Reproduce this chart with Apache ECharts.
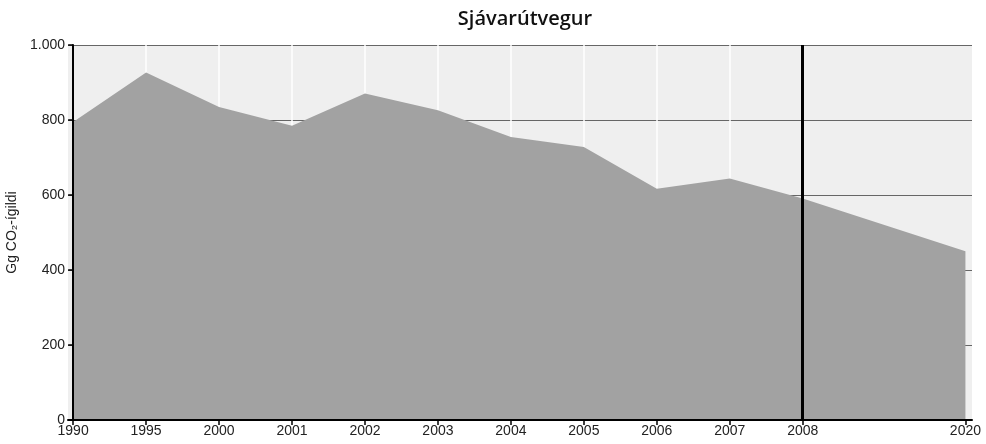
<!DOCTYPE html>
<html>
<head>
<meta charset="utf-8">
<script src="https://cdn.jsdelivr.net/npm/echarts@6/dist/echarts.min.js"></script>
<style>html,body{margin:0;padding:0;background:#fff}#c{width:986px;height:444px}</style>
</head>
<body>
<div id="c"></div>
<script>
// Data
const yearLabels = ['1990','1995','2000','2001','2002','2003','2004','2005','2006','2007','2008','2020'];
const xPos = [0,1,2,3,4,5,6,7,8,9,10,12.23];
const values = [795,927,835,785,871,826,755,728,617,644,591,450];
const gridYears = [1,2,3,4,5,6,7,8,9]; // white vertical grid lines (category positions)
const markYearPos = 10; // 2008 marker

const chart = echarts.init(document.getElementById('c'));
const seriesData = xPos.map((x,i)=>[x, values[i]]);
const font = '"Liberation Sans", Arial, sans-serif';
const X_MIN = -0.07, X_MAX = 12.32;

chart.setOption({
  animation:false,
  title:{text:'Sjávarútvegur', left:520, top:4, textAlign:'center',
    textStyle:{fontFamily:'"Open Sans", sans-serif', fontWeight:600, fontSize:20, color:'#111'}},
  grid:{left:68, right:14, top:45, bottom:24, outerBoundsMode:'none', containLabel:false,
    show:true, backgroundColor:'#efefef', borderWidth:0},
  xAxis:[{type:'value', min:X_MIN, max:X_MAX, zlevel:2,
    axisLine:{show:true, onZero:false, lineStyle:{color:'#000', width:2}},
    axisTick:{show:true, customValues:xPos, length:5, lineStyle:{color:'#000', width:1.5}},
    axisLabel:{customValues:xPos, margin:4, fontFamily:font, fontSize:14, color:'#222',
      formatter:(v)=>{let best=0;xPos.forEach((p,i)=>{if(Math.abs(p-v)<Math.abs(xPos[best]-v))best=i;});return yearLabels[best];}},
    splitLine:{show:false}},
   {type:'value', min:X_MIN, max:X_MAX, position:'bottom', zlevel:0,
    axisLine:{show:false}, axisLabel:{show:false, customValues:gridYears},
    axisTick:{show:false, customValues:gridYears},
    splitLine:{show:true, lineStyle:{color:'#ffffff', width:1.5}}}],
  yAxis:[{type:'value', min:0, max:1000, interval:200, zlevel:2,
    name:'Gg CO₂-ígildi', nameLocation:'middle', nameGap:43, nameRotate:90,
    nameTextStyle:{fontFamily:font, fontSize:14, color:'#222'},
    axisLine:{show:true, lineStyle:{color:'#000', width:2}},
    axisTick:{show:true, length:5, lineStyle:{color:'#000', width:1.5}},
    axisLabel:{margin:3, fontFamily:font, fontSize:14, color:'#222',
      formatter:(v)=> v>=1000 ? (Math.floor(v/1000)+'.'+String(v%1000).padStart(3,'0')) : String(v)},
    splitLine:{show:false}},
   {type:'value', min:0, max:1000, interval:200, zlevel:0, position:'left',
    axisLine:{show:false}, axisTick:{show:false}, axisLabel:{show:false},
    splitLine:{show:true, lineStyle:{color:'#666', width:1}}}],
  series:[
    {type:'line', data:seriesData, xAxisIndex:0, yAxisIndex:0, zlevel:1, z:3, symbol:'none', silent:true,
      lineStyle:{width:0, color:'#a2a2a2'},
      areaStyle:{color:'#a2a2a2', opacity:1},
      markLine:{silent:true, zlevel:2, z:10, symbol:'none', label:{show:false},
        lineStyle:{color:'#000', width:3, type:'solid'},
        data:[{xAxis:markYearPos}]}}
  ]
});
</script>
</body>
</html>
